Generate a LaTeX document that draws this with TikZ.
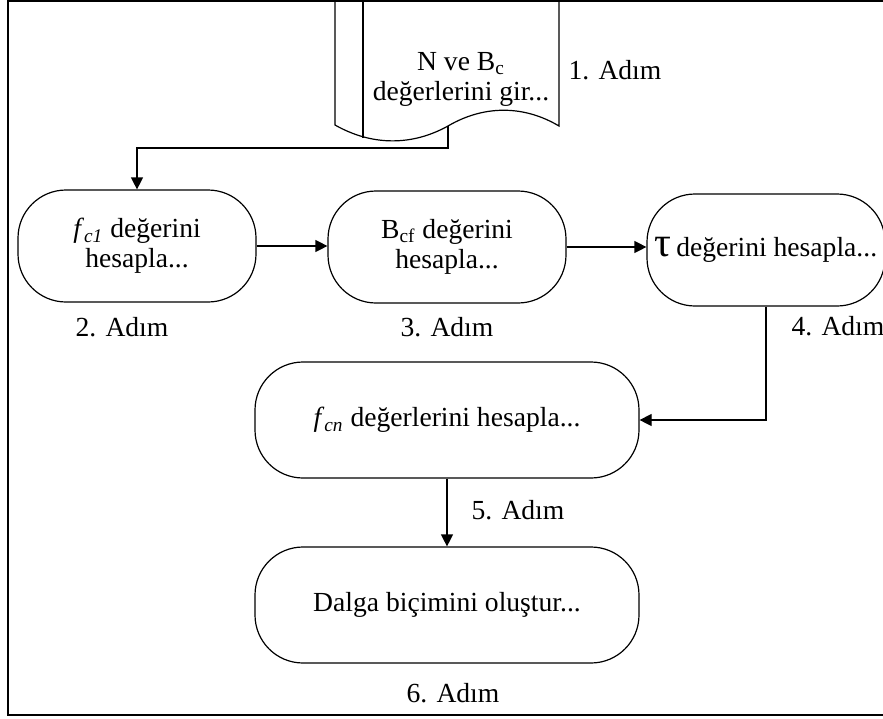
\documentclass[tikz,border=0pt]{standalone}
\usepackage{fontspec}
\setmainfont{Liberation Serif}
\usepackage{tikz}
\usetikzlibrary{arrows.meta,positioning}

\tikzset{
	stepnode/.style={draw, line width=0.6pt, rounded corners=24pt, align=center,
		minimum width=119pt, minimum height=56pt, inner sep=0pt},
	widenode/.style={stepnode, minimum width=192pt, minimum height=58pt},
	steplabel/.style={inner sep=0pt, align=center},
	arr/.style={line width=0.6pt, -{Triangle[length=6pt,width=6pt]}}
}

\begin{document}
\begin{tikzpicture}[x=0.5pt, y=-0.5pt,
	every node/.style={font=\fontsize{13.8}{15}\selectfont}]
				\useasboundingbox (0,0) rectangle (883,718);
				
				% outer frame, its right side falls off the page
				\draw[line width=1pt] (895,1) -- (8,1) -- (8,715) -- (895,715);
				
				% input document with the wavy bottom
				\draw[line width=0.6pt] (335,1) -- (335,125)
					.. controls (372,146) and (412,146) .. (448,126)
					.. controls (482,106) and (522,104) .. (559,126) -- (559,1) -- cycle;
				\draw[line width=0.6pt] (363,1) -- (363,138);
				\node[steplabel] (doc) at (461,79) {N ve B\textsubscript{c}\\değerlerini gir...};
				\coordinate (docout) at (448,126);
				\coordinate (bend) at (448,148);
				
				% the steps
				\node[stepnode] (fcone) at (137,246) {\textit{f}\textsubscript{\textit{c1}} değerini\\hesapla...};
				\node[stepnode] (bcf) at (447,247) {B\textsubscript{cf} değerini\\hesapla...};
				\node[stepnode] (tau) at (766,250) {{\fontsize{21}{21}\selectfont τ}\,değerini hesapla...};
				\node[widenode] (fcn) at (447,420) {\textit{f}\textsubscript{\textit{cn}} değerlerini hesapla...};
				\node[widenode] (dalga) at (447,605) {Dalga biçimini oluştur...};
				
				% step numbers
				\node[steplabel] (lone) at (615,70) {1. Adım};
				\node[steplabel] (ltwo) at (122,327) {2. Adım};
				\node[steplabel] (lthree) at (447,327) {3. Adım};
				\node[steplabel] (lfour) at (838,326) {4. Adım};
				\node[steplabel] (lfive) at (518,510) {5. Adım};
				\node[steplabel] (lsix) at (453,693) {6. Adım};
				
				% connectors
				\draw[arr] (docout) -- (bend) -| (fcone.north);
				\draw[arr] (fcone.east) -- (fcone.east -| bcf.west);
				\draw[arr] (bcf.east) -- (bcf.east -| tau.west);
				\draw[arr] (tau.south) |- (fcn.east);
				\draw[arr] (fcn.south) -- (dalga.north);
				
\end{tikzpicture}
\end{document}
